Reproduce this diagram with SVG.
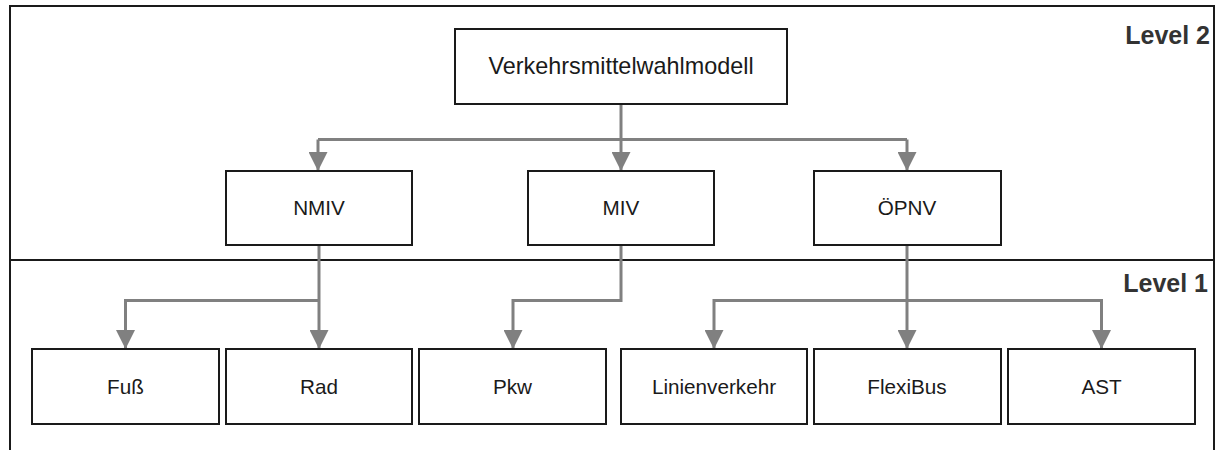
<svg xmlns="http://www.w3.org/2000/svg" width="1216" height="450" viewBox="0 0 1216 450">
  <defs>
    <marker id="arrow" markerWidth="19" markerHeight="19" viewBox="0 0 19 19" refX="19" refY="9.5" orient="auto" markerUnits="userSpaceOnUse">
      <path d="M0,0 L19,9.5 L0,19 Z" fill="#808080"/>
    </marker>
    <style>
      .frame { fill: none; stroke: #1a1a1a; stroke-width: 2; }
      .box { fill: #ffffff; stroke: #1a1a1a; stroke-width: 2; }
      .label { font-family: "Liberation Sans", Arial, sans-serif; font-size: 20.7px; fill: #1a1a1a; text-anchor: middle; }
      .title { font-size: 23.4px; }
      .level { font-family: "Liberation Sans", Arial, sans-serif; font-size: 25px; font-weight: bold; fill: #333333; text-anchor: end; }
      .conn { fill: none; stroke: #808080; stroke-width: 3; }
      .conn.arr { marker-end: url(#arrow); }
    </style>
  </defs>
  <rect width="1216" height="450" fill="#ffffff"/>

  <!-- level frame: open at the bottom -->
  <g id="frame">
    <path class="frame" d="M10,450 V6 H1214 V450"/>
    <line class="frame" x1="10" y1="260" x2="1214" y2="260"/>
    <text class="level" x="1210" y="44">Level 2</text>
    <text class="level" x="1208" y="292">Level 1</text>
  </g>

  <!-- connectors -->
  <g id="connectors">
    <line class="conn arr" x1="621" y1="104" x2="621" y2="171"/>
    <path class="conn" d="M318,139.5 H907"/>
    <path class="conn arr" d="M318,139.5 V171"/>
    <path class="conn arr" d="M907,139.5 V171"/>

    <line class="conn arr" x1="319" y1="245" x2="319" y2="349"/>
    <path class="conn arr" d="M319,300.5 H125.5 V349"/>

    <path class="conn arr" d="M621,245 V300.5 H513 V349"/>

    <line class="conn arr" x1="907" y1="245" x2="907" y2="349"/>
    <path class="conn arr" d="M907,300.5 H714 V349"/>
    <path class="conn arr" d="M907,300.5 H1101.5 V349"/>
  </g>

  <g id="modell">
    <rect class="box" x="455" y="29" width="332" height="75"/>
    <text class="label title" x="621" y="73.5">Verkehrsmittelwahlmodell</text>
  </g>

  <g id="nmiv">
    <rect class="box" x="226" y="171" width="186" height="74"/>
    <text class="label" x="319" y="215">NMIV</text>
  </g>
  <g id="miv">
    <rect class="box" x="528" y="171" width="186" height="74"/>
    <text class="label" x="621" y="215">MIV</text>
  </g>
  <g id="oepnv">
    <rect class="box" x="814" y="171" width="187" height="74"/>
    <text class="label" x="907" y="215">ÖPNV</text>
  </g>

  <g id="fuss">
    <rect class="box" x="32" y="349" width="187" height="75"/>
    <text class="label" x="125.5" y="393.5">Fuß</text>
  </g>
  <g id="rad">
    <rect class="box" x="226" y="349" width="186" height="75"/>
    <text class="label" x="319" y="393.5">Rad</text>
  </g>
  <g id="pkw">
    <rect class="box" x="419" y="349" width="187" height="75"/>
    <text class="label" x="512.5" y="393.5">Pkw</text>
  </g>
  <g id="linienverkehr">
    <rect class="box" x="621" y="349" width="186" height="75"/>
    <text class="label" x="714" y="393.5">Linienverkehr</text>
  </g>
  <g id="flexibus">
    <rect class="box" x="814" y="349" width="187" height="75"/>
    <text class="label" x="907" y="393.5">FlexiBus</text>
  </g>
  <g id="ast">
    <rect class="box" x="1008" y="349" width="187" height="75"/>
    <text class="label" x="1101.5" y="393.5">AST</text>
  </g>
</svg>
